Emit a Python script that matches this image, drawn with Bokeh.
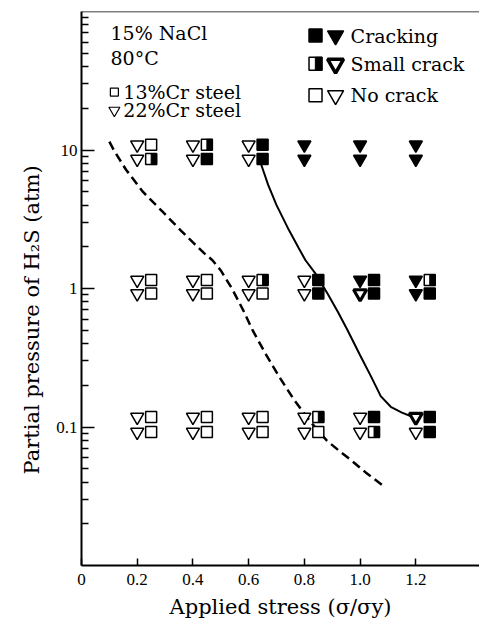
from bokeh.plotting import figure
from bokeh.models import FixedTicker, Range1d, Label, Span, ColumnDataSource, Title
from bokeh.transform import dodge
from bokeh.core.properties import value
from bokeh.embed import file_html
from bokeh.resources import INLINE

# ---------------- data ----------------
# 22%Cr steel (triangles): applied stress, H2S partial pressure, result
stress_22cr = [0.2, 0.2, 0.4, 0.4, 0.6, 0.6, 0.8, 0.8, 1.0, 1.0, 1.2, 1.2,
               0.2, 0.2, 0.4, 0.4, 0.6, 0.6, 0.8, 0.8, 1.0, 1.0, 1.2, 1.2,
               0.2, 0.2, 0.4, 0.4, 0.6, 0.6, 0.8, 0.8, 1.0, 1.0, 1.2, 1.2]
h2s_22cr = [10.9, 8.6, 10.9, 8.6, 10.9, 8.6, 10.9, 8.6, 10.9, 8.6, 10.9, 8.6,
            1.15, 0.92, 1.15, 0.92, 1.15, 0.92, 1.15, 0.92, 1.15, 0.92, 1.15, 0.92,
            0.118, 0.092, 0.118, 0.092, 0.118, 0.092, 0.118, 0.092, 0.118, 0.092, 0.118, 0.092]
result_22cr = ["N", "N", "N", "N", "N", "N", "C", "C", "C", "C", "C", "C",
               "N", "N", "N", "N", "N", "N", "N", "N", "C", "S", "C", "C",
               "N", "N", "N", "N", "N", "N", "N", "N", "N", "N", "S", "N"]

# 13%Cr steel (squares)
stress_13cr = [0.25, 0.25, 0.45, 0.45, 0.65, 0.65,
               0.25, 0.25, 0.45, 0.45, 0.65, 0.65, 0.85, 0.85, 1.05, 1.05, 1.25, 1.25,
               0.25, 0.25, 0.45, 0.45, 0.65, 0.65, 0.85, 0.85, 1.05, 1.05, 1.25, 1.25]
h2s_13cr = [10.9, 8.6, 10.9, 8.6, 10.9, 8.6,
            1.15, 0.92, 1.15, 0.92, 1.15, 0.92, 1.15, 0.92, 1.15, 0.92, 1.15, 0.92,
            0.118, 0.092, 0.118, 0.092, 0.118, 0.092, 0.118, 0.092, 0.118, 0.092, 0.118, 0.092]
result_13cr = ["N", "S", "S", "C", "C", "C",
               "N", "N", "N", "N", "S", "N", "C", "C", "C", "C", "S", "C",
               "N", "N", "N", "N", "N", "N", "S", "N", "C", "S", "C", "C"]

# boundary curves
dashed_stress = [0.10, 0.117, 0.16, 0.22, 0.29, 0.356, 0.40, 0.44, 0.47, 0.50, 0.54,
                 0.58, 0.614, 0.66, 0.71, 0.763, 0.82, 0.88, 0.93, 0.966, 1.02, 1.08]
dashed_h2s = [11.5, 9.9, 7.2, 5.0, 3.6, 2.63, 2.15, 1.8, 1.6, 1.35, 1.0,
              0.7, 0.50, 0.34, 0.23, 0.157, 0.11, 0.08, 0.066, 0.058, 0.047, 0.038]
solid_stress = [0.644, 0.67, 0.70, 0.745, 0.78, 0.804, 0.84, 0.883, 0.92, 0.955,
                1.00, 1.04, 1.074, 1.11, 1.15, 1.19]
solid_h2s = [7.96, 5.6, 4.0, 2.63, 1.95, 1.6, 1.28, 0.92, 0.68, 0.50,
             0.33, 0.23, 0.167, 0.14, 0.127, 0.118]

x_ticks = [0, 0.2, 0.4, 0.6, 0.8, 1.0, 1.2]
x_tick_labels = ["0", "0.2", "0.4", "0.6", "0.8", "1.0", "1.2"]
y_ticks = [0.1, 1, 10]
y_tick_labels = ["0.1", "1", "10"]

legend_labels = ["Cracking", "Small crack", "No crack"]
legend_states = ["C", "S", "N"]
info_lines = ["15% NaCl", "80°C"]
steel_labels = ["13%Cr steel", "22%Cr steel"]
x_title = "Applied stress (σ/σy)"
y_title = "Partial pressure of H₂S (atm)"

# ---------------- styling ----------------
SERIF = "DejaVu Serif"
TICKFONT = "Liberation Serif"
TRI_SIZE = 13
SQ_SIZE = 11

p = figure(width=479, height=624, x_range=Range1d(0, 1.4286), y_range=Range1d(0.01, 100),
           y_axis_type="log", output_backend="svg", toolbar_location=None,
           min_border_left=81, min_border_right=0, min_border_top=11, min_border_bottom=59)
p.grid.visible = False
p.outline_line_color = None

xa = p.xaxis[0]
xa.ticker = FixedTicker(ticks=x_ticks)
xa.major_label_overrides = {t: l for t, l in zip(x_ticks, x_tick_labels)}
xa.major_tick_in = 7
xa.major_tick_out = 0
xa.minor_tick_line_color = None
xa.axis_line_width = 2
xa.major_tick_line_width = 1.5
xa.major_label_standoff = 8
xa.major_label_text_font = TICKFONT
xa.major_label_text_font_size = "17px"
xa.major_label_text_color = "black"
xa.axis_label = x_title
xa.axis_label_text_font = SERIF
xa.axis_label_text_font_size = "21px"
xa.axis_label_text_font_style = "normal"
xa.axis_label_standoff = 7
xa.axis_label_text_color = "black"

minor = []
for dec in [0.01, 0.1, 1, 10]:
    for k in range(2, 10):
        minor.append(k * dec)
ya = p.yaxis[0]
ya.ticker = FixedTicker(ticks=y_ticks, minor_ticks=minor)
ya.major_label_overrides = {t: l for t, l in zip(y_ticks, y_tick_labels)}
ya.major_tick_in = 13
ya.major_tick_out = 0
ya.minor_tick_in = 7
ya.minor_tick_out = 0
ya.axis_line_width = 2
ya.major_tick_line_width = 1.5
ya.minor_tick_line_width = 1.5
ya.major_label_standoff = 4
ya.major_label_text_font = TICKFONT
ya.major_label_text_font_size = "17px"
ya.major_label_text_color = "black"

# y title as a side title so it can sit a little below the frame centre
p.add_layout(Title(text=y_title, align="left", offset=91, standoff=20,
                   text_font=SERIF, text_font_size="21px", text_font_style="normal",
                   text_color="black"), "left")

p.add_layout(Span(location=100, dimension="width", line_color="black", line_width=1.5))

# curves
p.line(dashed_stress, dashed_h2s, line_color="black", line_width=2.5, line_dash="9 5")
p.line(solid_stress, solid_h2s, line_color="black", line_width=2)


def subset(xs, ys, rs, state):
    return ColumnDataSource(dict(x=[x for x, r in zip(xs, rs) if r == state],
                                 y=[y for y, r in zip(ys, rs) if r == state]))


# triangles (22%Cr)
for state, fill, lw in [("N", "white", 1.5), ("S", "white", 3.2), ("C", "black", 1.5)]:
    src = subset(stress_22cr, h2s_22cr, result_22cr, state)
    p.scatter("x", "y", source=src, marker="inverted_triangle", size=TRI_SIZE,
              fill_color=fill, line_color="black", line_width=lw)

# squares (13%Cr)
for state, fill in [("N", "white"), ("S", "white"), ("C", "black")]:
    src = subset(stress_13cr, h2s_13cr, result_13cr, state)
    p.scatter("x", "y", source=src, marker="square", size=SQ_SIZE,
              fill_color=fill, line_color="black", line_width=1.5)
    if state == "S":
        p.rect(x=dodge("x", 0.0099, range=p.x_range), y="y", source=src,
               width=SQ_SIZE / 2, height=SQ_SIZE, width_units="screen", height_units="screen",
               fill_color="black", line_color="black", line_width=1)

# ---------------- annotations ----------------
for txt, yv in zip(info_lines, [69.6, 46.3]):
    p.add_layout(Label(x=0.104, y=yv, text=txt, text_font=SERIF, text_font_size="19px",
                       text_baseline="middle", text_color="black"))

steel_y = [26.2, 19.3]
p.scatter(x=[0.118], y=[steel_y[0]], marker="square", size=8, fill_color="white",
          line_color="black", line_width=1.2)
p.scatter(x=[0.118], y=[steel_y[1]], marker="inverted_triangle", size=11, fill_color="white",
          line_color="black", line_width=1.2)
for txt, yv in zip(steel_labels, steel_y):
    p.add_layout(Label(x=0.150, y=yv, text=txt, text_font=SERIF, text_font_size="19px",
                       text_baseline="middle", text_color="black"))

leg_y = [67, 41.9, 24.8]
for txt, st, yv in zip(legend_labels, legend_states, leg_y):
    fill = "black" if st == "C" else "white"
    p.scatter(x=[0.84], y=[yv], marker="square", size=13, fill_color=fill,
              line_color="black", line_width=1.5)
    if st == "S":
        p.rect(x=[0.851], y=[yv], width=6.5, height=13, width_units="screen",
               height_units="screen", fill_color="black", line_color="black")
    p.scatter(x=[0.912], y=[yv], marker="inverted_triangle", size=16, fill_color=fill,
              line_color="black", line_width=3.5 if st == "S" else 1.5)
    p.add_layout(Label(x=0.966, y=yv, text=txt, text_font=SERIF, text_font_size="19px",
                       text_baseline="middle", text_color="black"))

open("out.html", "w").write(file_html(p, INLINE))
